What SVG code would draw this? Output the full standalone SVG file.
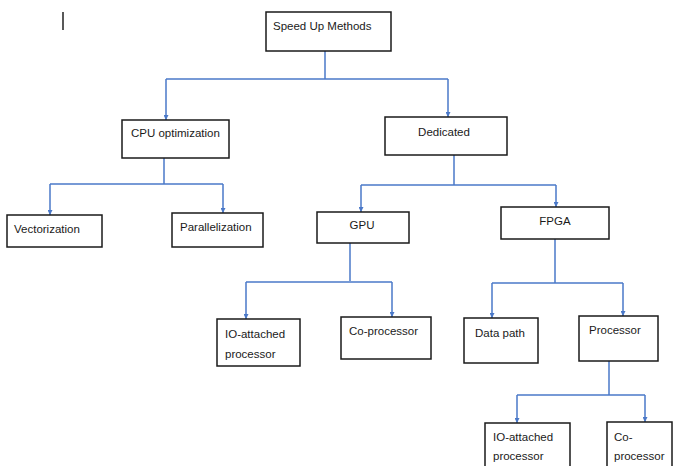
<svg xmlns="http://www.w3.org/2000/svg" width="675" height="466" viewBox="0 0 675 466">
<style>
.box{fill:#fff;stroke:#1a1a1a;stroke-width:1.5}
.t{font-family:"Liberation Sans",Arial,sans-serif;font-size:11.5px;fill:#1a1a1a}
.c{fill:none;stroke:#4a78c8;stroke-width:1.5}
</style>
<defs>
<marker id="ah" viewBox="0 0 10 10" refX="10" refY="5" markerWidth="5" markerHeight="5" orient="auto" markerUnits="userSpaceOnUse">
<path d="M0,0 L10,5 L0,10 z" fill="#4a78c8"/>
</marker>
</defs>
<rect width="675" height="466" fill="#fff"/>
<line x1="63" y1="12" x2="63" y2="30" stroke="#222" stroke-width="1.5"/>
<g id="connectors">
<path class="c" d="M325,51 V79"/>
<path class="c" d="M166,79 H448"/>
<path class="c" d="M166,79 V120" marker-end="url(#ah)"/>
<path class="c" d="M448,79 V117" marker-end="url(#ah)"/>
<path class="c" d="M164,158 V184"/>
<path class="c" d="M50,184 H223"/>
<path class="c" d="M50,184 V215" marker-end="url(#ah)"/>
<path class="c" d="M223,184 V213" marker-end="url(#ah)"/>
<path class="c" d="M454,155 V185"/>
<path class="c" d="M361,185 H556"/>
<path class="c" d="M361,185 V212" marker-end="url(#ah)"/>
<path class="c" d="M556,185 V207" marker-end="url(#ah)"/>
<path class="c" d="M350,243 V281"/>
<path class="c" d="M246,282 H392"/>
<path class="c" d="M246,282 V319" marker-end="url(#ah)"/>
<path class="c" d="M392,282 V317" marker-end="url(#ah)"/>
<path class="c" d="M555,239 V283"/>
<path class="c" d="M492,283 H623"/>
<path class="c" d="M492,283 V318" marker-end="url(#ah)"/>
<path class="c" d="M623,283 V316" marker-end="url(#ah)"/>
<path class="c" d="M609,361 V395"/>
<path class="c" d="M517,395 H645"/>
<path class="c" d="M517,395 V423" marker-end="url(#ah)"/>
<path class="c" d="M645,395 V422" marker-end="url(#ah)"/>
</g>
<g id="speedup"><rect class="box" x="266" y="12" width="125" height="39"/><text class="t" x="273" y="30">Speed Up Methods</text></g>
<g id="cpu"><rect class="box" x="122" y="120" width="107" height="38"/><text class="t" x="131" y="137">CPU optimization</text></g>
<g id="dedicated"><rect class="box" x="385" y="117" width="122" height="38"/><text class="t" x="444" y="136" text-anchor="middle">Dedicated</text></g>
<g id="vectorization"><rect class="box" x="7" y="215" width="95" height="32"/><text class="t" x="14" y="233">Vectorization</text></g>
<g id="parallelization"><rect class="box" x="172" y="213" width="91" height="34"/><text class="t" x="180" y="231">Parallelization</text></g>
<g id="gpu"><rect class="box" x="317" y="212" width="92" height="31"/><text class="t" x="362" y="229" text-anchor="middle">GPU</text></g>
<g id="fpga"><rect class="box" x="501" y="207" width="108" height="32"/><text class="t" x="555" y="225" text-anchor="middle">FPGA</text></g>
<g id="gpu-io"><rect class="box" x="217" y="319" width="83" height="47"/><text class="t" x="225" y="338">IO-attached</text><text class="t" x="225" y="358">processor</text></g>
<g id="gpu-co"><rect class="box" x="341" y="317" width="90" height="42"/><text class="t" x="349" y="335">Co-processor</text></g>
<g id="datapath"><rect class="box" x="464" y="318" width="74" height="45"/><text class="t" x="475" y="337">Data path</text></g>
<g id="processor"><rect class="box" x="579" y="316" width="79" height="45"/><text class="t" x="589" y="334">Processor</text></g>
<g id="proc-io"><rect class="box" x="485" y="423" width="85" height="50"/><text class="t" x="493" y="441">IO-attached</text><text class="t" x="493" y="460">processor</text></g>
<g id="proc-co"><rect class="box" x="607" y="422" width="65" height="50"/><text class="t" x="614" y="441">Co-</text><text class="t" x="614" y="460">processor</text></g>
</svg>
